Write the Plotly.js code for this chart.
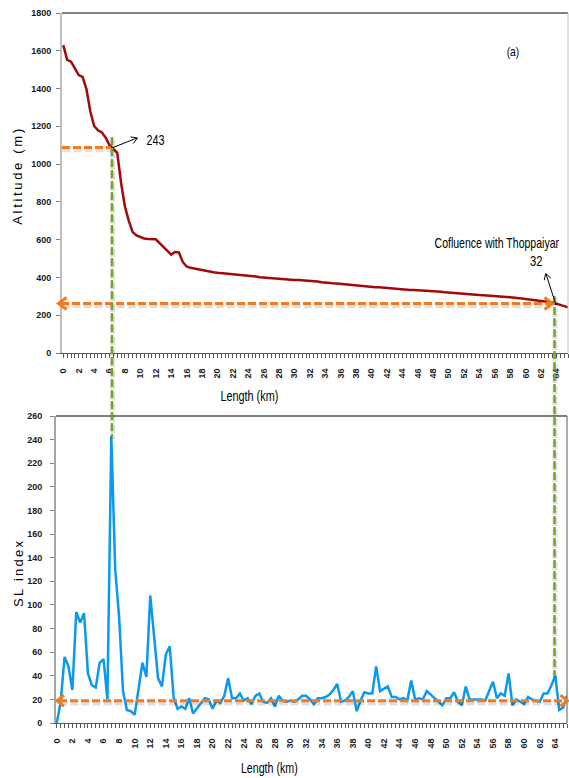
<!DOCTYPE html>
<html>
<head>
<meta charset="utf-8">
<script src="https://cdn.plot.ly/plotly-3.0.1.min.js"></script>
<style>html,body{margin:0;padding:0;background:#fff}</style>
</head>
<body>
<div id="chart" style="width:569px;height:778px"></div>
<script>
// Distance along the river (km), sampled every 0.5 km
const lengthKm = [
  0, 0.5, 1, 1.5, 2, 2.5, 3, 3.5, 4, 4.5, 5, 5.5, 6, 6.5, 7, 7.5, 8, 8.5, 9, 9.5,
  10, 10.5, 11, 11.5, 12, 12.5, 13, 13.5, 14, 14.5, 15, 15.5, 16, 16.5, 17, 17.5, 18, 18.5, 19, 19.5,
  20, 20.5, 21, 21.5, 22, 22.5, 23, 23.5, 24, 24.5, 25, 25.5, 26, 26.5, 27, 27.5, 28, 28.5, 29, 29.5,
  30, 30.5, 31, 31.5, 32, 32.5, 33, 33.5, 34, 34.5, 35, 35.5, 36, 36.5, 37, 37.5, 38, 38.5, 39, 39.5,
  40, 40.5, 41, 41.5, 42, 42.5, 43, 43.5, 44, 44.5, 45, 45.5, 46, 46.5, 47, 47.5, 48, 48.5, 49, 49.5,
  50, 50.5, 51, 51.5, 52, 52.5, 53, 53.5, 54, 54.5, 55, 55.5, 56, 56.5, 57, 57.5, 58, 58.5, 59, 59.5,
  60, 60.5, 61, 61.5, 62, 62.5, 63, 63.5, 64, 64.5, 65, 65.5
];

// Longitudinal profile: altitude (m)
const altitudeM = [
  1630, 1552, 1542, 1505, 1471, 1462, 1398, 1280, 1202, 1179, 1168, 1140, 1100, 1080, 1060, 900, 775, 700, 640, 622,
  612, 606, 604, 604, 602, 582, 563, 541, 521, 535, 533, 482, 458, 451, 447, 444, 436, 434, 430, 428,
  425, 423, 421, 420, 418, 417, 415, 414, 412, 409, 405, 401, 399, 398, 397, 396, 394, 392, 388, 386,
  386, 386, 385, 384, 383, 381, 378, 375, 372, 370, 369, 368, 366, 362, 360, 358, 355, 353, 351, 350,
  349, 348, 348, 346, 344, 341, 339, 337, 335, 334, 334, 334, 333, 332, 331, 331, 328, 326, 324, 322,
  320, 318, 316, 314, 312, 311, 310, 308, 307, 306, 305, 304, 302, 301, 299, 297, 295, 294, 292, 289,
  286, 284, 281, 279, 276, 273, 270, 267, 262, 254, 248, 242
];

// Stream length-gradient (SL) index
const slIndex = [
  0, 18, 56, 48, 28, 94, 85, 93, 42, 32,
  30, 51, 54, 20, 243, 130, 90, 27, 11, 10,
  7, 28, 51, 39, 108, 73, 38, 31, 58, 65,
  22, 12, 14, 12, 21, 8, 12, 17, 21, 20,
  12, 19, 17, 23, 38, 21, 21, 25, 19, 21,
  16, 23, 25, 18, 17, 21, 14, 23, 19, 18,
  19, 18, 20, 23, 23, 20, 16, 21, 21, 22,
  24, 28, 33, 18, 19, 22, 27, 10, 19, 26,
  25, 25, 48, 27, 29, 31, 22, 22, 20, 21,
  19, 36, 20, 21, 20, 27, 24, 21, 18, 15,
  21, 21, 26, 18, 15, 31, 20, 20, 20, 20,
  19, 27, 35, 21, 25, 23, 42, 15, 20, 18,
  16, 22, 20, 19, 18, 25, 25, 32, 40, 11,
  13, 23
];

const altitudeTitle = 'Altitude (m)';
const slTitle = 'SL index';
const lengthTitle = 'Length (km)';
const panelLabel = '(a)';
const knickLabel = '243';
const confluenceLabel = 'Cofluence with Thoppaiyar';
const confluenceValue = '32';

// ---- page geometry helpers (pixel -> paper fraction) ----
const W = 569, H = 778;
const px = x => x / W;
const py = y => 1 - y / H;

const SANS = '"Liberation Sans", Arial, sans-serif';
const tickFont = {family: SANS, size: 9, color: '#1a1a1a', weight: 'bold'};

const ORANGE = '#f47a20';
const GREEN = '#76a52b';

function seg(x0, y0, x1, y1, color, width, dash) {
  return {type: 'line', xref: 'paper', yref: 'paper', layer: 'above',
    x0: px(x0), y0: py(y0), x1: px(x1), y1: py(y1),
    line: {color: color, width: width, dash: dash || 'solid'}};
}
function chevron(tx, ty, dx, dy, len, half, color, width) {
  const n = Math.hypot(dx, dy), ux = dx / n, uy = dy / n;
  const bx = tx - ux * len, by = ty - uy * len;
  const ax = bx - uy * half, ay = by + ux * half;
  const cx = bx + uy * half, cy = by - ux * half;
  return {type: 'path', xref: 'paper', yref: 'paper', layer: 'above',
    path: `M${px(ax)},${py(ay)} L${px(tx)},${py(ty)} L${px(cx)},${py(cy)}`,
    line: {color: color, width: width}};
}
// dashed connector with a soft drop shadow underneath
function shadowed(x0, y0, x1, y1, color, width) {
  return [
    seg(x0 + 0.5, y0 + 2, x1 + 0.5, y1 + 2, 'rgba(0,0,0,0.13)', width + 2.5, '8px,3px'),
    seg(x0, y0, x1, y1, color, width, '8px,3px')
  ];
}

const shapes = [
  // panel frames
  seg(62, 13, 568, 13, '#000', 1),
  seg(568, 13, 568, 353, '#bfbfbf', 1),
  seg(56, 416, 567, 416, '#000', 1),
  seg(567, 416, 567, 723, '#595959', 1),
  // reference levels
  ...shadowed(62, 147.5, 111, 147.5, ORANGE, 3),
  ...shadowed(61, 303.5, 550, 303.5, ORANGE, 3),
  chevron(58.5, 303.5, -1, 0, 8, 6, ORANGE, 3),
  chevron(552.5, 303.5, 1, 0, 8, 6, ORANGE, 3),
  ...shadowed(59, 700.7, 565, 700.7, ORANGE, 3),
  chevron(57, 700.7, -1, 0, 7, 5.5, ORANGE, 3),
  chevron(567.5, 700.7, 1, 0, 7, 5.5, ORANGE, 3),
  // links between the two panels
  ...shadowed(112, 137, 112, 437, GREEN, 2.5),
  ...shadowed(554.5, 296, 554.5, 676, GREEN, 2.5),
  // pointers
  seg(113, 147.5, 137, 138, '#000', 1),
  chevron(137.5, 138, 24, -9.5, 6, 3.5, '#000', 1),
  seg(556, 305, 546, 274, '#000', 1),
  chevron(545.7, 273.5, -10, -31, 6, 3.5, '#000', 1)
];

function label(text, x, y, size, extra) {
  return Object.assign({text: text, xref: 'paper', yref: 'paper', x: px(x), y: py(y),
    xanchor: 'center', yanchor: 'middle', showarrow: false,
    font: {family: SANS, size: size, color: '#000'}}, extra || {});
}

const annotations = [
  label(knickLabel, 155, 139, 15),
  label(panelLabel, 513, 52, 13),
  label(confluenceLabel, 497, 243, 14),
  label(confluenceValue, 536, 261, 15),
  label(lengthTitle, 249, 396, 14),
  label(lengthTitle, 269, 768, 14),
  label(altitudeTitle, 18, 177, 13, {textangle: -90}),
  label(slTitle, 18, 574, 13, {textangle: -90})
];
// target text widths (px): 'condense' narrows the glyphs, 'spread' spaces the letters out
const textFit = [
  {w: 18, mode: 'condense'},
  {w: 12.5, mode: 'condense'},
  {w: 125, mode: 'condense'},
  {w: 12.5, mode: 'condense'},
  {w: 58, mode: 'condense'},
  {w: 57, mode: 'condense'},
  {w: 96, mode: 'spread'},
  {w: 66, mode: 'spread'}
];

const xCommon = {
  tick0: 0, dtick: 2, ticks: 'outside', ticklen: 4, tickwidth: 1, tickcolor: '#595959',
  showline: true, linecolor: '#595959', linewidth: 1, showgrid: false, zeroline: false,
  tickangle: -90, tickfont: tickFont, ticklabelstandoff: 7,
  minor: {dtick: 0.5, ticks: 'outside', ticklen: 4, tickwidth: 1, tickcolor: '#595959', showgrid: false}
};
const yCommon = {
  ticks: 'outside', ticklen: 4, tickwidth: 1, tickcolor: '#7f7f7f',
  showline: true, linecolor: '#bfbfbf', linewidth: 2, showgrid: false, zeroline: false,
  tickfont: tickFont
};

const traces = [
  {x: lengthKm, y: altitudeM, type: 'scatter', mode: 'lines', xaxis: 'x', yaxis: 'y',
   line: {color: '#a00a0a', width: 2.5}, hoverinfo: 'skip'},
  {x: lengthKm, y: slIndex, type: 'scatter', mode: 'lines', xaxis: 'x2', yaxis: 'y2',
   line: {color: '#0a98f0', width: 2.5}, hoverinfo: 'skip'}
];

const layout = {
  width: W, height: H,
  margin: {l: 0, r: 0, t: 0, b: 0},
  paper_bgcolor: '#fff', plot_bgcolor: '#fff',
  showlegend: false,
  xaxis: Object.assign({}, xCommon, {domain: [px(62), px(568)], range: [-0.17, 65.5], anchor: 'y'}),
  yaxis: Object.assign({}, yCommon, {domain: [py(353), py(13)], range: [0, 1800], dtick: 200, anchor: 'x', ticklabelstandoff: 3}),
  xaxis2: Object.assign({}, xCommon, {domain: [px(56), px(567)], range: [-0.1, 65.5], anchor: 'y2'}),
  yaxis2: Object.assign({}, yCommon, {domain: [py(723), py(416)], range: [0, 260], dtick: 20, anchor: 'x2', ticklabelstandoff: 6, linecolor: '#a6a6a6'}),
  shapes: shapes,
  annotations: annotations
};

Plotly.newPlot('chart', traces, layout, {staticPlot: true, displayModeBar: false}).then(gd => {
  gd.querySelectorAll('g.annotation').forEach(g => {
    const fit = textFit[+g.getAttribute('data-index')];
    const t = g.querySelector('text.annotation-text');
    if (!fit || !t) return;
    if (fit.mode === 'spread') {
      t.setAttribute('textLength', fit.w);
      t.setAttribute('lengthAdjust', 'spacing');
    } else {
      // narrow the label horizontally around its own centre
      const b = t.getBBox();
      const s = fit.w / b.width;
      const cx = b.x + b.width / 2;
      t.setAttribute('transform', `translate(${cx},0) scale(${s},1) translate(${-cx},0)`);
    }
  });
});
</script>
</body>
</html>
